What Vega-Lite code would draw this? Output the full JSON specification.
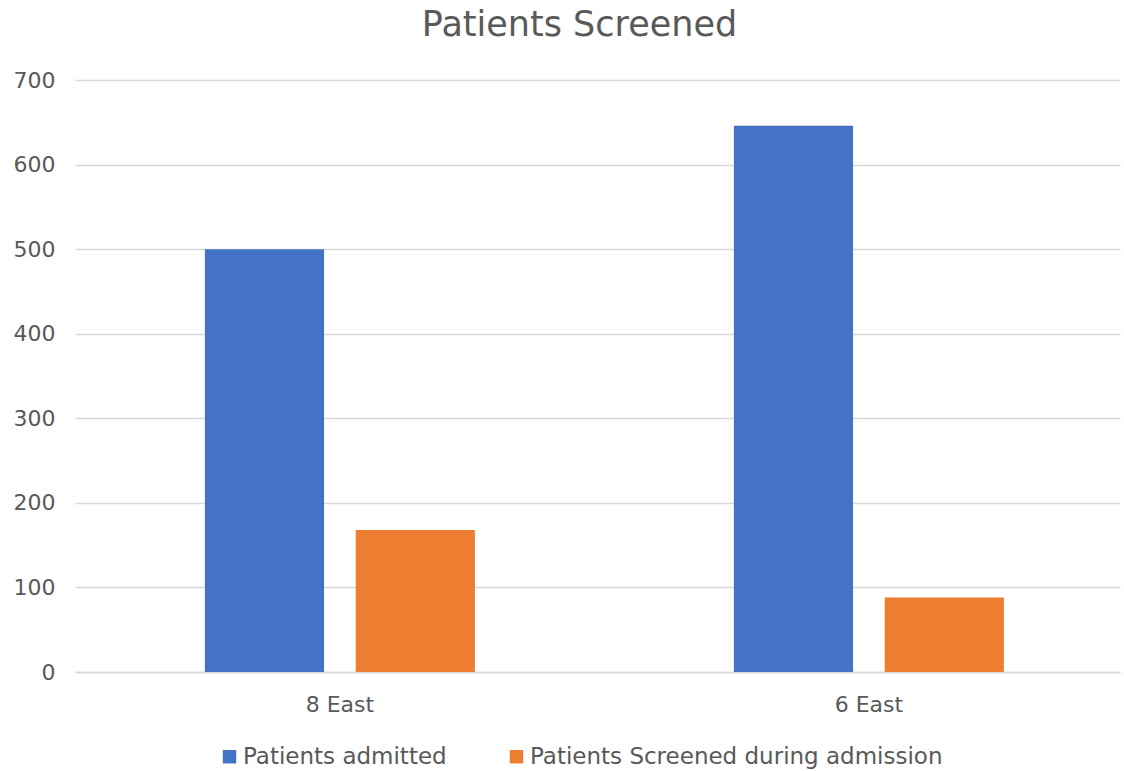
{
  "$schema": "https://vega.github.io/schema/vega-lite/v6.json",
  "width": 1045,
  "height": 592,
  "autosize": {"type": "none"},
  "padding": {"left": 75, "top": 80, "right": 4, "bottom": 99},
  "background": "white",
  "title": {"text": "Patients Screened", "fontSize": 35, "font": "DejaVu Sans", "fontWeight": "normal", "color": "#595959", "anchor": "middle", "frame": "group", "offset": 26, "dx": -18},
  "data": {"values": [
    {"unit": "8 East", "series": "Patients admitted", "value": 500},
    {"unit": "8 East", "series": "Patients Screened during admission", "value": 168},
    {"unit": "6 East", "series": "Patients admitted", "value": 646},
    {"unit": "6 East", "series": "Patients Screened during admission", "value": 88}
  ]},
  "mark": {"type": "bar"},
  "encoding": {
    "x": {"field": "unit", "type": "nominal", "sort": ["8 East", "6 East"],
      "scale": {"paddingInner": 0.4896, "paddingOuter": 0.2325, "align": 0.528},
      "axis": {"title": null, "labelAngle": 0, "labelFont": "DejaVu Sans", "labelFontSize": 22, "labelColor": "#595959", "ticks": false, "domainColor": "#D9D9D9", "domainWidth": 1.3, "labelPadding": 22}},
    "xOffset": {"field": "series", "type": "nominal", "sort": ["Patients admitted", "Patients Screened during admission"], "scale": {"paddingInner": 0.21, "paddingOuter": 0}},
    "y": {"field": "value", "type": "quantitative",
      "scale": {"domain": [0, 700]},
      "axis": {"title": null, "values": [0,100,200,300,400,500,600,700], "labelOverlap": false, "labelFont": "DejaVu Sans", "labelFontSize": 22, "labelColor": "#595959", "ticks": false, "domain": false, "gridColor": "#D9D9D9", "gridWidth": 1.3, "labelPadding": 20}},
    "color": {"field": "series", "type": "nominal",
      "scale": {"domain": ["Patients admitted", "Patients Screened during admission"], "range": ["#4472C4", "#ED7D31"]},
      "legend": {"title": null, "orient": "none", "legendX": 143, "legendY": 665, "direction": "horizontal", "symbolType": "square", "symbolSize": 180, "symbolStrokeWidth": 0, "labelFont": "DejaVu Sans", "labelFontSize": 23, "labelColor": "#595959", "labelLimit": 500, "columnPadding": 58, "symbolOffset": 0, "labelOffset": 2}}
  },
  "config": {"view": {"stroke": null}}
}
